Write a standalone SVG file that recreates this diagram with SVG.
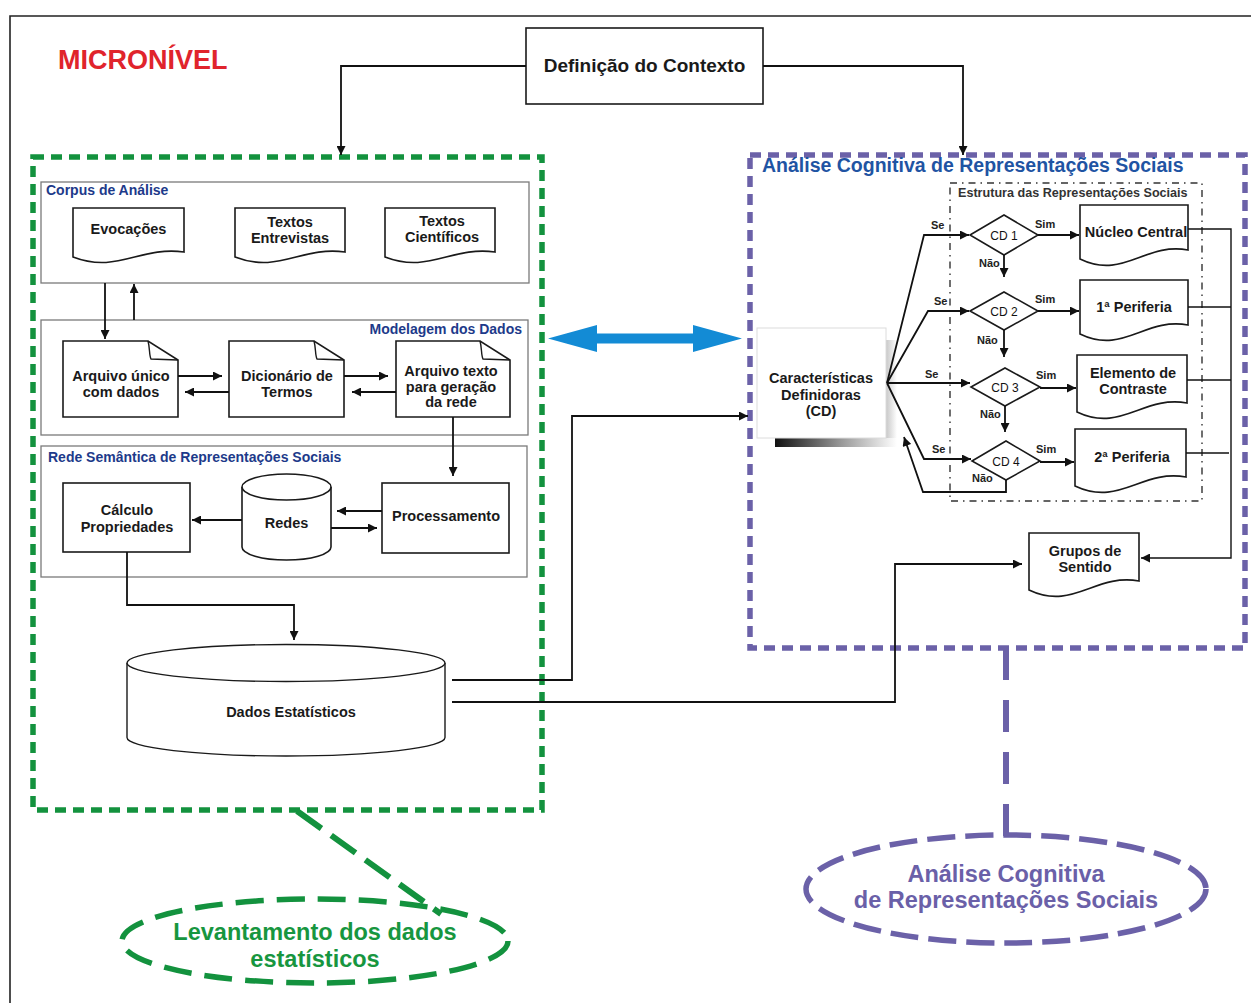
<svg xmlns="http://www.w3.org/2000/svg" width="1251" height="1003" viewBox="0 0 1251 1003">
  <defs>
    <marker id="arrow" viewBox="0 0 10 10" refX="10" refY="5" markerWidth="11" markerHeight="9" markerUnits="userSpaceOnUse" orient="auto">
      <path d="M0,0 L10,5 L0,10 Z" fill="#111"/>
    </marker>
    <linearGradient id="shadeBottom" x1="0" y1="0" x2="1" y2="0">
      <stop offset="0" stop-color="#111"/>
      <stop offset="0.55" stop-color="#9a9a9a"/>
      <stop offset="1" stop-color="#fff"/>
    </linearGradient>
    <linearGradient id="shadeRight" x1="0" y1="0" x2="1" y2="0">
      <stop offset="0" stop-color="#c8c8c8"/>
      <stop offset="1" stop-color="#fff"/>
    </linearGradient>
    <style>
      .box { fill:#fff; stroke:#1a1a1a; stroke-width:1.6; }
      .fold { fill:none; stroke:#1a1a1a; stroke-width:1.4; }
      .panel { fill:#fff; stroke:#7a7a7a; stroke-width:1.3; }
      .t { font-family:"Liberation Sans", Arial, sans-serif; font-weight:bold; font-size:14.5px; fill:#1a1a1a; text-anchor:middle; }
      .big { font-size:19px; }
      .lbl { font-family:"Liberation Sans", Arial, sans-serif; font-weight:bold; font-size:14px; fill:#1d3a8a; }
      .s { font-family:"Liberation Sans", Arial, sans-serif; font-weight:bold; font-size:11px; fill:#222; }
      .cd { font-family:"Liberation Sans", Arial, sans-serif; font-size:12px; fill:#111; text-anchor:middle; }
      .edge { fill:none; stroke:#111; stroke-width:1.8; }
      .bus { fill:none; stroke:#111; stroke-width:1.4; }
      .green { fill:none; stroke:#13923e; stroke-width:5.5; stroke-dasharray:11 7; }
      .purple { fill:none; stroke:#6b61a8; stroke-width:5.5; stroke-dasharray:11 7; }
    </style>
  </defs>

  <rect width="1251" height="1003" fill="#fff"/>

  <!-- page frame (top and left edges) -->
  <path d="M10,1003 V16 H1251" fill="none" stroke="#222" stroke-width="1.6"/>

  <text x="58" y="69" font-family="'Liberation Sans', Arial, sans-serif" font-weight="bold" font-size="27" fill="#e0242c">MICRONÍVEL</text>

  <!-- context definition -->
  <g id="definicao-contexto">
    <rect class="box" x="526" y="28" width="237" height="76"/>
    <text class="t big" x="644.5" y="72">Definição do Contexto</text>
  </g>

  <!-- left region: statistical data gathering -->
  <g id="regiao-levantamento">
    <rect class="green" x="33" y="157" width="509" height="653"/>
  </g>

  <g id="corpus-analise">
    <rect class="panel" x="41" y="182" width="488" height="101"/>
    <text class="lbl" x="46" y="195">Corpus de Análise</text>
  </g>
  <g id="evocacoes">
    <path class="box" d="M73,208 H184 V252 C139.6,246 117.4,274 73,257 Z"/>
    <text class="t" x="128.5" y="234">Evocações</text>
  </g>
  <g id="textos-entrevistas">
    <path class="box" d="M235,208 H345 V252 C301,246 279,274 235,257 Z"/>
    <text class="t" x="290" y="227">Textos<tspan x="290" dy="16">Entrevistas</tspan></text>
  </g>
  <g id="textos-cientificos">
    <path class="box" d="M385,208 H495 V252 C451,246 429,274 385,257 Z"/>
    <text class="t" x="442" y="226">Textos<tspan x="442" dy="16">Científicos</tspan></text>
  </g>

  <g id="modelagem-dados">
    <rect class="panel" x="41" y="320" width="487" height="115"/>
    <text class="lbl" x="522" y="334" text-anchor="end">Modelagem dos Dados</text>
  </g>
  <g id="arquivo-unico">
    <path class="box" d="M63,341 H148 L178,360 V417 H63 Z"/>
    <path class="fold" d="M148,341 C150,348 149,355 151,359 L178,360"/>
    <text class="t" x="121" y="381">Arquivo único<tspan x="121" dy="16">com dados</tspan></text>
  </g>
  <g id="dicionario-termos">
    <path class="box" d="M229,341 H314 L344,360 V417 H229 Z"/>
    <path class="fold" d="M314,341 C316,348 315,355 317,359 L344,360"/>
    <text class="t" x="287" y="381">Dicionário de<tspan x="287" dy="16">Termos</tspan></text>
  </g>
  <g id="arquivo-texto">
    <path class="box" d="M396,341 H480 L510,360 V417 H396 Z"/>
    <path class="fold" d="M480,341 C482,348 481,355 483,359 L510,360"/>
    <text class="t" x="451" y="376">Arquivo texto<tspan x="451" dy="15.5">para geração</tspan><tspan x="451" dy="15.5">da rede</tspan></text>
  </g>

  <g id="rede-semantica">
    <rect class="panel" x="41" y="446" width="486" height="131"/>
    <text class="lbl" x="48" y="462">Rede Semântica de Representações Sociais</text>
  </g>
  <g id="calculo-propriedades">
    <rect class="box" x="63" y="483" width="127" height="69"/>
    <text class="t" x="127" y="515">Cálculo<tspan x="127" dy="17">Propriedades</tspan></text>
  </g>
  <g id="redes">
    <path class="box" d="M242,487 V547 A44.5,13 0 0 0 331,547 V487"/>
    <ellipse class="box" cx="286.5" cy="487" rx="44.5" ry="13"/>
    <text class="t" x="286.5" y="528">Redes</text>
  </g>
  <g id="processamento">
    <rect class="box" x="382" y="483" width="127" height="70"/>
    <text class="t" x="446" y="521">Processamento</text>
  </g>

  <g id="dados-estatisticos">
    <path d="M127,663 V737.5 A159,18.5 0 0 0 445,737.5 V663" fill="#fff" stroke="#1a1a1a" stroke-width="1.4"/>
    <ellipse cx="286" cy="663" rx="159" ry="18.5" fill="#fff" stroke="#1a1a1a" stroke-width="1.4"/>
    <text class="t" x="291" y="717">Dados Estatísticos</text>
  </g>

  <g id="levantamento-dados">
    <ellipse cx="315" cy="941" rx="193" ry="42" fill="none" stroke="#13923e" stroke-width="5.5" stroke-dasharray="28 13"/>
    <text x="315" y="940" text-anchor="middle" font-family="'Liberation Sans', Arial, sans-serif" font-weight="bold" font-size="23.5" fill="#17963f">Levantamento dos dados<tspan x="315" dy="27">estatísticos</tspan></text>
  </g>

  <!-- right region: cognitive analysis -->
  <g id="regiao-analise-cognitiva">
    <rect class="purple" x="750" y="155" width="495" height="493"/>
    <text x="762" y="172" font-family="'Liberation Sans', Arial, sans-serif" font-weight="bold" font-size="19.5" fill="#1f54a3">Análise Cognitiva de Representações Sociais</text>
  </g>

  <g id="estrutura-representacoes">
    <rect x="950" y="183" width="252" height="318" fill="none" stroke="#333" stroke-width="1.4" stroke-dasharray="7 5 1.5 5"/>
    <text x="958" y="197" font-family="'Liberation Sans', Arial, sans-serif" font-weight="bold" font-size="12.6" fill="#333">Estrutura das Representações Sociais</text>
  </g>

  <g id="caracteristicas-definidoras">
    <rect x="775" y="438" width="122" height="9" fill="url(#shadeBottom)"/>
    <rect x="886" y="340" width="11" height="98" fill="url(#shadeRight)"/>
    <rect x="757" y="328" width="129" height="110" fill="#fff" stroke="#dcdcdc" stroke-width="1"/>
    <text class="t" x="821" y="383">Características<tspan x="821" dy="16.5">Definidoras</tspan><tspan x="821" dy="16.5">(CD)</tspan></text>
  </g>

  <g id="cd1">
    <path class="box" d="M970,235 L1004,215 L1038,235 L1004,255 Z"/>
    <text class="cd" x="1004" y="240">CD 1</text>
  </g>
  <g id="cd2">
    <path class="box" d="M970,311 L1004,292 L1038,311 L1004,330 Z"/>
    <text class="cd" x="1004" y="316">CD 2</text>
  </g>
  <g id="cd3">
    <path class="box" d="M971,387 L1005,368 L1040,387 L1005,406 Z"/>
    <text class="cd" x="1005" y="392">CD 3</text>
  </g>
  <g id="cd4">
    <path class="box" d="M972,461 L1006,441 L1040,461 L1006,480 Z"/>
    <text class="cd" x="1006" y="466">CD 4</text>
  </g>

  <g id="nucleo-central">
    <path class="box" d="M1080,205 H1188 V250 C1144.8,242 1123.2,280 1080,259 Z"/>
    <text class="t" x="1136" y="237">Núcleo Central</text>
  </g>
  <g id="primeira-periferia">
    <path class="box" d="M1080,280 H1188 V325 C1144.8,317 1123.2,355 1080,334 Z"/>
    <text class="t" x="1134" y="312">1ª Periferia</text>
  </g>
  <g id="elemento-contraste">
    <path class="box" d="M1077,355 H1187 V403 C1143,395 1121,433 1077,412 Z"/>
    <text class="t" x="1133" y="378">Elemento de<tspan x="1133" dy="16">Contraste</tspan></text>
  </g>
  <g id="segunda-periferia">
    <path class="box" d="M1075,429 H1186 V477 C1141.6,469 1119.4,507 1075,486 Z"/>
    <text class="t" x="1132" y="462">2ª Periferia</text>
  </g>
  <g id="grupos-sentido">
    <path class="box" d="M1029,533 H1139 V581 C1095,573 1073,611 1029,590 Z"/>
    <text class="t" x="1085" y="556">Grupos de<tspan x="1085" dy="16">Sentido</tspan></text>
  </g>

  <g id="analise-cognitiva-rs">
    <ellipse cx="1006" cy="889" rx="200" ry="54" fill="none" stroke="#6b61a8" stroke-width="5.5" stroke-dasharray="28 10"/>
    <text x="1006" y="882" text-anchor="middle" font-family="'Liberation Sans', Arial, sans-serif" font-weight="bold" font-size="23.5" fill="#6a60a8">Análise Cognitiva<tspan x="1006" dy="26">de Representações Sociais</tspan></text>
  </g>

  <!-- connectors -->
  <g id="connectors">
    <path class="edge" d="M526,66 H341 V155" marker-end="url(#arrow)"/>
    <path class="edge" d="M763,66 H963 V155" marker-end="url(#arrow)"/>

    <path class="edge" d="M105,283 V339" marker-end="url(#arrow)"/>
    <path class="edge" d="M134,320 V284" marker-end="url(#arrow)"/>
    <path class="edge" d="M178,376 H222" marker-end="url(#arrow)"/>
    <path class="edge" d="M229,392 H185" marker-end="url(#arrow)"/>
    <path class="edge" d="M344,376 H388" marker-end="url(#arrow)"/>
    <path class="edge" d="M396,392 H352" marker-end="url(#arrow)"/>
    <path class="edge" d="M453,417 V476" marker-end="url(#arrow)"/>
    <path class="edge" d="M382,511 H337" marker-end="url(#arrow)"/>
    <path class="edge" d="M331,528 H377" marker-end="url(#arrow)"/>
    <path class="edge" d="M242,520 H192" marker-end="url(#arrow)"/>
    <path class="edge" d="M127,552 V605 H294 V640" marker-end="url(#arrow)"/>

    <path class="edge" d="M452,680 H572 V416 H748" marker-end="url(#arrow)"/>
    <path class="edge" d="M452,702 H895 V564 H1022" marker-end="url(#arrow)"/>

    <polygon points="548,338.5 597,325 597,333.5 693,333.5 693,325 742,338.5 693,352 693,343.5 597,343.5 597,352" fill="#138bd5"/>

    <path class="edge" d="M887,383 L924,235 H969" marker-end="url(#arrow)"/>
    <path class="edge" d="M887,383 L928,311 H969" marker-end="url(#arrow)"/>
    <path class="edge" d="M887,383 H970" marker-end="url(#arrow)"/>
    <path class="edge" d="M887,383 L924,459 H971" marker-end="url(#arrow)"/>
    <text class="s" x="931" y="229">Se</text>
    <text class="s" x="934" y="305">Se</text>
    <text class="s" x="925" y="378">Se</text>
    <text class="s" x="932" y="453">Se</text>

    <path class="edge" d="M1004,255 V277" marker-end="url(#arrow)"/>
    <path class="edge" d="M1004,330 V357" marker-end="url(#arrow)"/>
    <path class="edge" d="M1005,406 V432" marker-end="url(#arrow)"/>
    <path class="edge" d="M1006,480 V492 H923 L904,437" marker-end="url(#arrow)"/>
    <text class="s" x="979" y="267">Não</text>
    <text class="s" x="977" y="344">Não</text>
    <text class="s" x="980" y="418">Não</text>
    <text class="s" x="972" y="482">Não</text>

    <path class="edge" d="M1038,235 H1079" marker-end="url(#arrow)"/>
    <path class="edge" d="M1038,311 H1079" marker-end="url(#arrow)"/>
    <path class="edge" d="M1040,388 H1076" marker-end="url(#arrow)"/>
    <path class="edge" d="M1040,462 H1074" marker-end="url(#arrow)"/>
    <text class="s" x="1035" y="228">Sim</text>
    <text class="s" x="1035" y="303">Sim</text>
    <text class="s" x="1036" y="379">Sim</text>
    <text class="s" x="1036" y="453">Sim</text>

    <path class="bus" d="M1188,229 H1231 V558 H1141" marker-end="url(#arrow)"/>
    <path class="bus" d="M1188,307 H1231"/>
    <path class="bus" d="M1187,380 H1231"/>
    <path class="bus" d="M1186,453 H1229"/>

    <path d="M297,811 L441,914" fill="none" stroke="#13923e" stroke-width="6" stroke-dasharray="30 12"/>
    <path d="M1006,648 V838" fill="none" stroke="#6b61a8" stroke-width="6" stroke-dasharray="32 20"/>
  </g>
</svg>
